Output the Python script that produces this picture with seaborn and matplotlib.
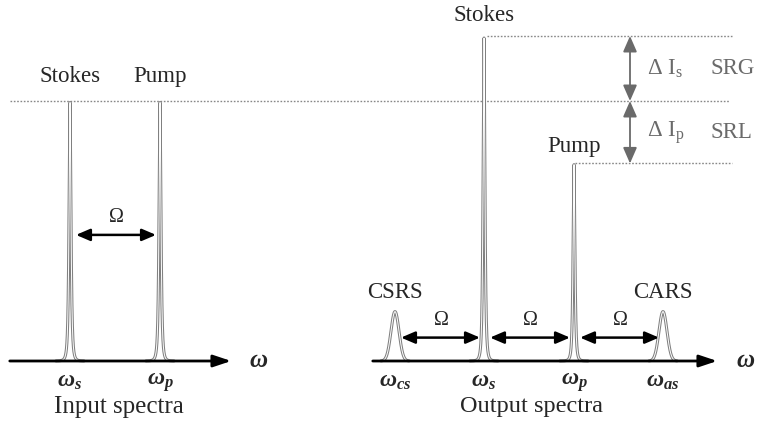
import matplotlib

matplotlib.use("Agg")
import matplotlib.pyplot as plt
import numpy as np
import pandas as pd
import seaborn as sns

# peak positions (x, px-like frequency units) and heights (input level = 1)
IN_NAMES = ["Stokes", "Pump"]
IN_POS = [70, 160]
IN_HEIGHT = [1.0, 1.0]
IN_TICKS = [r"$\omega_{s}$", r"$\omega_{p}$"]

OUT_NAMES = ["CSRS", "Stokes", "Pump", "CARS"]
OUT_POS = [395, 484, 574, 663]
OUT_HEIGHT = [0.19, 1.25, 0.76, 0.19]
OUT_WIDTH = [4.0, 1.6, 1.6, 4.0]
OUT_TICKS = [r"$\omega_{cs}$", r"$\omega_{s}$", r"$\omega_{p}$", r"$\omega_{as}$"]

PX = 260.0  # px per unit intensity
LABEL_GAP_IN = [14, 14]
LABEL_GAP_OUT = [9, 10, 6, 9]


def profile(x, c, h, w, sharp):
    d = np.abs(x - c) / w
    if sharp:
        return h / (1 + d ** 2) ** 1.5 * np.exp(-d / 4)
    return h * np.exp(-0.5 * d ** 2)


def build_curves():
    rows = []
    for name, c, h in zip(IN_NAMES, IN_POS, IN_HEIGHT):
        x = np.linspace(c - 14, c + 14, 400)
        y = profile(x, c, h, 1.7, True)
        rows.append(pd.DataFrame({"x": x, "y": y, "peak": "in_" + name}))
    for name, c, h, w in zip(OUT_NAMES, OUT_POS, OUT_HEIGHT, OUT_WIDTH):
        x = np.linspace(c - 14, c + 14, 400)
        y = profile(x, c, h, w, w < 3)
        rows.append(pd.DataFrame({"x": x, "y": y, "peak": "out_" + name}))
    return pd.concat(rows, ignore_index=True)


sns.set_theme(style="white")
plt.rcParams["font.family"] = ["Liberation Serif", "DejaVu Serif"]
plt.rcParams["mathtext.fontset"] = "custom"
plt.rcParams["mathtext.rm"] = "Liberation Serif"
plt.rcParams["mathtext.it"] = "Liberation Serif:italic:bold"

fig = plt.figure(figsize=(7.58, 4.24), dpi=100)
ax = fig.add_axes([0, 0, 1, 1])
ax.set_xlim(0, 758)
ax.set_ylim(-63 / PX, 361 / PX)
ax.axis("off")

curves = build_curves()
for key, grp in curves.groupby("peak"):
    ax.fill_between(grp["x"], 0, grp["y"], color="white", zorder=2)
    sns.lineplot(data=grp, x="x", y="y", ax=ax, color="#808080", lw=2.2,
                 sort=False, legend=False, zorder=3)
    sns.lineplot(data=grp, x="x", y="y", ax=ax, color="white", lw=0.7,
                 sort=False, legend=False, zorder=4)

# frequency axes
for x0, x1, xw in [(7, 234, 259), (370, 720, 746)]:
    ax.annotate("", xy=(x1, 0), xytext=(x0, 0),
                arrowprops=dict(arrowstyle="-|>,head_length=0.9,head_width=0.3",
                                color="black", lw=2), zorder=5)
    ax.text(xw, 0, r"$\omega$", ha="center", va="center", fontsize=18)

# dotted reference levels
dots = dict(ls=(0, (1.2, 1.2)), color="#888888", lw=1)
ax.plot([10, 730], [1.0, 1.0], **dots)
ax.plot([487, 732], [OUT_HEIGHT[1], OUT_HEIGHT[1]], **dots)
ax.plot([575, 732], [OUT_HEIGHT[2], OUT_HEIGHT[2]], **dots)

# peak labels
for name, c, h, g in zip(IN_NAMES, IN_POS, IN_HEIGHT, LABEL_GAP_IN):
    ax.text(c, h + g / PX, name, ha="center", va="bottom", fontsize=16.5)
for name, c, h, g in zip(OUT_NAMES, OUT_POS, OUT_HEIGHT, LABEL_GAP_OUT):
    ax.text(c, h + g / PX, name, ha="center", va="bottom", fontsize=16.5)

# tick labels
for c, t in zip(IN_POS, IN_TICKS):
    ax.text(c, -0.08, t, ha="center", va="center", fontsize=17)
for c, t in zip(OUT_POS, OUT_TICKS):
    ax.text(c, -0.08, t, ha="center", va="center", fontsize=17)
ax.text(119, -0.175, "Input spectra", ha="center", va="center", fontsize=18)
ax.text(531, -0.175, "Output spectra", ha="center", va="center", fontsize=17.5)

# Omega arrows
dbl = dict(arrowstyle="<|-|>,head_length=0.7,head_width=0.3", color="black", lw=1.8,
           shrinkA=0, shrinkB=0)
omega_pairs = [(IN_POS[0], IN_POS[1], 0.485)] + [
    (OUT_POS[i], OUT_POS[i + 1], 0.09) for i in range(3)]
for a, b, yy in omega_pairs:
    ax.annotate("", xy=(a + 6, yy), xytext=(b - 4, yy), arrowprops=dbl, zorder=5)
    ax.text((a + b) / 2 + 1, yy + 0.03, r"$\mathrm{\Omega}$", ha="center", va="bottom",
            fontsize=14.5)

# intensity change arrows
grey = "#6a6a6a"
gry = dict(arrowstyle="<|-|>,head_length=0.8,head_width=0.35", color=grey, lw=1.3,
           shrinkA=0, shrinkB=0)
ax.annotate("", xy=(630, OUT_HEIGHT[1]), xytext=(630, 1.0), arrowprops=gry)
ax.annotate("", xy=(630, 1.0), xytext=(630, OUT_HEIGHT[2]), arrowprops=gry)
ax.text(647, (OUT_HEIGHT[1] + 1) / 2, r"$\Delta\ \mathrm{I}_{\mathrm{s}}$", ha="left",
        va="center", fontsize=16.5, color=grey)
ax.text(647, (OUT_HEIGHT[2] + 1) / 2, r"$\Delta\ \mathrm{I}_{\mathrm{p}}$", ha="left",
        va="center", fontsize=16.5, color=grey)
ax.text(711, (OUT_HEIGHT[1] + 1) / 2, "SRG", ha="left", va="center", fontsize=16.5,
        color=grey)
ax.text(711, (OUT_HEIGHT[2] + 1) / 2, "SRL", ha="left", va="center", fontsize=16.5,
        color=grey)

fig.savefig("out.png", dpi=100)
